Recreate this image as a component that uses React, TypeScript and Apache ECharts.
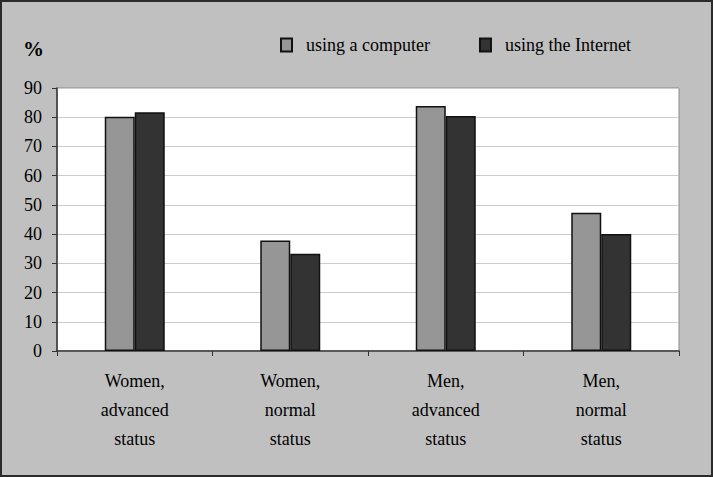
import React, { useEffect, useRef } from "react";
import * as echarts from "echarts";

const categories = [
  "Women,\nadvanced\nstatus",
  "Women,\nnormal\nstatus",
  "Men,\nadvanced\nstatus",
  "Men,\nnormal\nstatus",
];
const seriesNames = ["using a computer", "using the Internet"];
const computerValues = [80.2, 37.8, 83.8, 47.3];
const internetValues = [81.7, 33.3, 80.4, 40];
const yTicks = { min: 0, max: 90, interval: 10 };

export default function App() {
  const ref = useRef<HTMLDivElement>(null);
  useEffect(() => {
    document.body.style.margin = "0";
    const chart = echarts.init(ref.current!, null, { renderer: "svg" });
    const font = "Liberation Serif, Times New Roman, serif";
    chart.setOption({
      animation: false,
      backgroundColor: "#c0c0c0",
      textStyle: { fontFamily: font, color: "#000" },
      title: {
        text: "%",
        left: 18,
        top: 33,
        textStyle: { fontFamily: font, fontSize: 21, fontWeight: "bold", color: "#000" },
      },
      graphic: [
        {
          type: "rect",
          shape: { x: 1, y: 1, width: 711, height: 475 },
          style: { fill: "none", stroke: "#2b2b2b", lineWidth: 2 },
          silent: true,
          z: 100,
        },
      ],
      legend: {
        left: 275,
        top: 31,
        itemWidth: 11,
        itemHeight: 13,
        itemGap: 49,
        icon: "rect",
        data: seriesNames,
        textStyle: { fontFamily: font, fontSize: 18, color: "#000", padding: [0, 0, 0, 9] },
      },
      grid: {
        left: 57,
        right: 34,
        top: 88,
        bottom: 126,
        show: true,
        backgroundColor: "#ffffff",
        borderColor: "#8a8a8a",
        borderWidth: 1,
      },
      xAxis: {
        type: "category",
        data: categories,
        axisLine: { lineStyle: { color: "#333", width: 1.5 } },
        axisTick: { show: true, length: 5, lineStyle: { color: "#333" } },
        axisLabel: {
          fontFamily: font,
          fontSize: 18,
          color: "#000",
          lineHeight: 29,
          margin: 15,
          interval: 0,
        },
      },
      yAxis: {
        type: "value",
        min: yTicks.min,
        max: yTicks.max,
        interval: yTicks.interval,
        axisLine: { show: true, lineStyle: { color: "#333", width: 1.5 } },
        axisTick: { show: true, length: 5, lineStyle: { color: "#333" } },
        axisLabel: { fontFamily: font, fontSize: 18, color: "#000", margin: 15 },
        splitLine: { lineStyle: { color: "#cccccc", width: 1 } },
      },
      series: [
        {
          name: seriesNames[0],
          type: "bar",
          data: computerValues,
          barWidth: 30,
          barGap: "0%",
          itemStyle: { color: "#969696", borderColor: "#111", borderWidth: 1.5 },
        },
        {
          name: seriesNames[1],
          type: "bar",
          data: internetValues,
          barWidth: 30,
          barGap: "0%",
          itemStyle: { color: "#333333", borderColor: "#111", borderWidth: 1.5 },
        },
      ],
    });
    return () => chart.dispose();
  }, []);
  return <div ref={ref} style={{ width: 713, height: 477 }} />;
}
